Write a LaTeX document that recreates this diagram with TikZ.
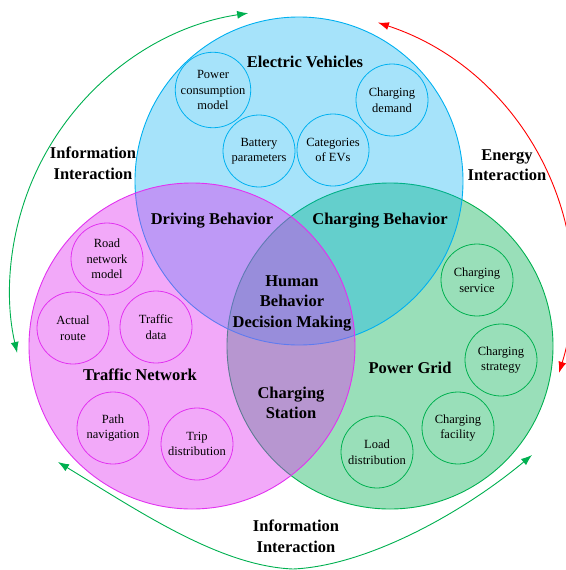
\documentclass[tikz,border=0pt]{standalone}
\usepackage{fontspec}
\setmainfont{Liberation Serif}
\usetikzlibrary{arrows.meta}
\definecolor{evblue}{RGB}{0,176,240}
\definecolor{tnpink}{RGB}{225,50,240}
\definecolor{pggreen}{RGB}{0,176,80}
\definecolor{linkred}{RGB}{255,0,0}

\begin{document}
\begin{tikzpicture}[x=1pt,y=1pt,
  sphere/.style={line width=0.9pt},
  title/.style={font=\fontsize{16.5}{20.5}\selectfont\bfseries, align=center, inner sep=0pt},
  factor/.style={circle, draw=#1, line width=0.8pt, minimum size=72pt, inner sep=0pt,
                 font=\fontsize{12.5}{15.5}\selectfont, align=center},
  link/.style={line width=0.9pt, {Latex[length=11pt,width=8pt]}-{Latex[length=11pt,width=8pt]}}
]
\useasboundingbox (0,0) rectangle (565,-570);

% three overlapping spheres (grid, vehicles, traffic)
\coordinate (pgc) at (390,-346);
\coordinate (evc) at (299,-181);
\coordinate (tnc) at (192,-346);
\path[sphere, draw=pggreen, fill=pggreen, fill opacity=0.4] (pgc) circle[radius=163pt];
\path[sphere, draw=evblue, fill=evblue, fill opacity=0.35] (evc) circle[radius=164pt];
\path[sphere, draw=tnpink, fill=tnpink, fill opacity=0.42] (tnc) circle[radius=163pt];

% sphere titles and overlap labels
\node[title] (evt) at (305,-62) {Electric Vehicles};
\node[title] (tnt) at (140,-375) {Traffic Network};
\node[title] (pgt) at (410,-368) {Power Grid};
\node[title] (drv) at (212,-221) {Driving Behavior};
\node[title] (chb) at (380,-221) {Charging Behavior};
\node[title] (hum) at (292,-303) {Human\\Behavior\\Decision Making};
\node[title] (sta) at (291,-403) {Charging\\Station};

% factors of the electric vehicles
\node[factor=evblue] (pcm) at (213,-90) {Power\\consumption\\model};
\node[factor=evblue] (bat) at (259,-151) {Battery\\parameters};
\node[factor=evblue] (cat) at (333,-150) {Categories\\of EVs};
\node[factor=evblue] (dem) at (392,-100) {Charging\\demand};

% factors of the traffic network
\node[factor=tnpink] (rnm) at (107,-259) {Road\\network\\model};
\node[factor=tnpink] (act) at (73,-328) {Actual\\route};
\node[factor=tnpink] (tdt) at (156,-327) {Traffic\\data};
\node[factor=tnpink] (pth) at (113,-428) {Path\\navigation};
\node[factor=tnpink] (trp) at (197,-444) {Trip\\distribution};

% factors of the power grid
\node[factor=pggreen] (svc) at (477,-280) {Charging\\service};
\node[factor=pggreen] (stg) at (501,-360) {Charging\\strategy};
\node[factor=pggreen] (fac) at (458,-428) {Charging\\facility};
\node[factor=pggreen] (ld)  at (377,-452) {Load\\distribution};

% interaction arrows around the spheres
\coordinate (hub) at (290,-290);
\draw[link, pggreen] ([shift={(98.6:280pt)}]hub) arc[start angle=98.6, end angle=193, radius=280pt];
\draw[link, linkred] ([shift={(71.8:281.5pt)}]hub) arc[start angle=71.8, end angle=-17.1, radius=281.5pt];
\coordinate (bl) at (58,-462);
\coordinate (bm) at (293,-569);
\coordinate (br) at (532,-455);
\draw[link, pggreen] (bl) .. controls (140,-512) and (220,-566) .. (bm)
                          .. controls (365,-566) and (460,-515) .. (br);

\node[title] (infl) at (93,-163.5) {Information\\Interaction};
\node[title] (engy) at (507,-165) {Energy\\Interaction};
\node[title] (infb) at (296,-536.5) {Information\\Interaction};
\end{tikzpicture}
\end{document}
